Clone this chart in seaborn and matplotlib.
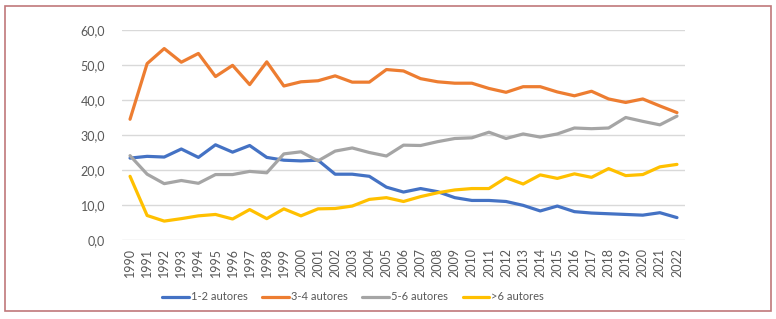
import matplotlib.pyplot as plt
import matplotlib.patches as patches
import numpy as np
import pandas as pd
import seaborn as sns

years = [str(y) for y in range(1990, 2023)]

autores_1_2 = [23.4, 23.9, 23.7, 26.0, 23.6, 27.2, 25.1, 27.0, 23.6, 22.8,
               22.6, 22.8, 18.8, 18.8, 18.2, 15.1, 13.7, 14.7, 13.8, 12.1,
               11.3, 11.3, 11.0, 9.9, 8.3, 9.7, 8.1, 7.7, 7.5, 7.3,
               7.1, 7.8, 6.4]
autores_3_4 = [34.5, 50.4, 54.7, 50.8, 53.3, 46.7, 49.9, 44.4, 50.9, 44.0,
               45.2, 45.5, 46.9, 45.1, 45.1, 48.7, 48.3, 46.1, 45.2, 44.8,
               44.8, 43.3, 42.2, 43.8, 43.8, 42.3, 41.2, 42.5, 40.3, 39.3,
               40.3, 38.3, 36.4]
autores_5_6 = [24.1, 18.8, 16.1, 17.0, 16.2, 18.7, 18.7, 19.6, 19.2, 24.6,
               25.2, 22.6, 25.4, 26.3, 25.0, 24.0, 27.1, 27.0, 28.1, 29.0,
               29.2, 30.8, 29.0, 30.3, 29.4, 30.3, 32.0, 31.8, 32.0, 35.0,
               33.9, 32.9, 35.4]
autores_mais_6 = [18.2, 7.0, 5.4, 6.1, 6.9, 7.3, 6.0, 8.7, 6.1, 8.9,
                  6.9, 8.9, 9.0, 9.7, 11.6, 12.1, 11.0, 12.4, 13.5, 14.3,
                  14.7, 14.7, 17.8, 16.0, 18.6, 17.6, 18.9, 17.9, 20.4, 18.4,
                  18.7, 20.9, 21.6]

series_names = ['1-2 autores', '3-4 autores', '5-6 autores', '>6 autores']
series_values = [autores_1_2, autores_3_4, autores_5_6, autores_mais_6]
colors = ['#4472C4', '#ED7D31', '#A5A5A5', '#FFC000']

df = pd.concat([
    pd.DataFrame({'ano': years, 'valor': vals, 'serie': name})
    for name, vals in zip(series_names, series_values)
])

sns.set_style('white')
plt.rcParams['font.family'] = ['Lato', 'DejaVu Sans']

fig = plt.figure(figsize=(7.76, 3.19), dpi=100)
ax = fig.add_axes([122 / 776, 1 - 240 / 319, (685 - 122) / 776, 210 / 319])

sns.lineplot(data=df, x='ano', y='valor', hue='serie', palette=colors,
             linewidth=2.3, ax=ax, sort=False)

ax.set_ylim(0, 60)
ax.set_xlim(-0.47, 32.47)
ax.set_yticks(np.arange(0, 61, 10))
ax.set_yticklabels([f'{v:.1f}'.replace('.', ',') for v in np.arange(0, 61, 10)])
ax.grid(axis='y', color='#D9D9D9', linewidth=1)
ax.set_axisbelow(True)
for s in ax.spines.values():
    s.set_visible(False)
ax.tick_params(axis='y', length=0, labelsize=9, colors='#595959', pad=12)
ax.tick_params(axis='x', length=0, labelsize=9, colors='#595959',
               labelrotation=90, pad=6)
ax.set_xlabel('')
ax.set_ylabel('')

handles, labels = ax.get_legend_handles_labels()
ax.legend(handles, labels, loc='center', bbox_to_anchor=(353 / 776, 1 - 297 / 319),
          bbox_transform=fig.transFigure, ncol=4, frameon=False, fontsize=8,
          handlelength=2.4, handletextpad=0.15, columnspacing=1.35,
          labelcolor='#595959')

# outer frame
fig.patches.append(patches.Rectangle((5 / 776, 1 - 311 / 319), 766 / 776, 305 / 319,
                                     transform=fig.transFigure, fill=False,
                                     edgecolor='#C0787A', linewidth=1.2))

fig.savefig('out.png', dpi=100)
